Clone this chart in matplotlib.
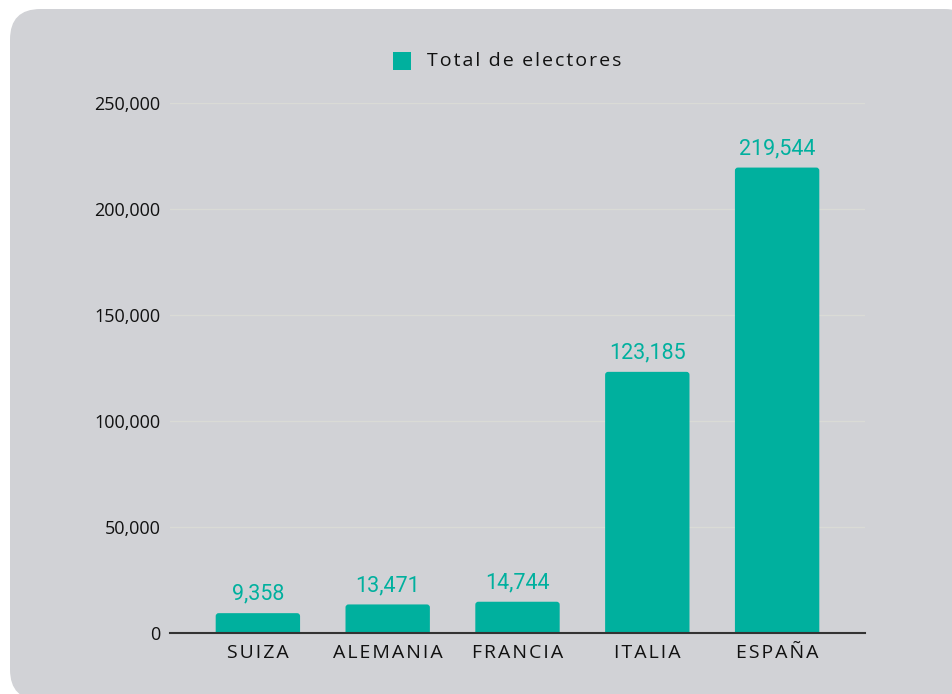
import matplotlib
matplotlib.use("Agg")
import matplotlib.pyplot as plt
from matplotlib.patches import FancyBboxPatch, Rectangle
from matplotlib.ticker import FuncFormatter

countries = ["SUIZA", "ALEMANIA", "FRANCIA", "ITALIA", "ESPAÑA"]
electores = [9358, 13471, 14744, 123185, 219544]
series_name = "Total de electores"
yticks = [0, 50000, 100000, 150000, 200000, 250000]


def spaced(s, sep="\u200a", wsep=" "):
    return wsep.join(sep.join(w) for w in s.split(" "))


W, H = 952, 694
fig = plt.figure(figsize=(W / 100, H / 100), dpi=100)
fig.patch.set_facecolor("white")

# rounded background panel
px0, py0, px1, py1 = 10, 9, 975, 700
panel = FancyBboxPatch((px0 / W, 1 - py1 / H), (px1 - px0) / W, (py1 - py0) / H,
                       boxstyle="round,pad=0,rounding_size=0.032",
                       transform=fig.transFigure, facecolor="#d1d2d6",
                       edgecolor="none", zorder=-10, mutation_aspect=W / H)
fig.patches.append(panel)

ax_l, ax_r, ax_t, ax_b = 170, 865, 103, 633
ax = fig.add_axes([ax_l / W, 1 - ax_b / H, (ax_r - ax_l) / W, (ax_b - ax_t) / H])
ax.set_facecolor("none")
ax.set_zorder(1)

xmin, xmax = -0.677, len(countries) - 1 + 0.677
ymin, ymax = 0, 250000
ax.set_xlim(xmin, xmax)
ax.set_ylim(ymin, ymax)

teal = "#00b09e"
x = range(len(countries))
bars = ax.bar(x, electores, width=0.65, color=teal, zorder=3)
# rounded top corners
xpp = (xmax - xmin) / (ax_r - ax_l)
ypp = (ymax - ymin) / (ax_b - ax_t)
for b in bars:
    b.set_visible(False)
    rb = FancyBboxPatch((b.get_x(), -6 * ypp), b.get_width(), b.get_height() + 6 * ypp,
                        boxstyle=f"round,pad=0,rounding_size={3 * xpp}",
                        mutation_aspect=ypp / xpp, facecolor=teal, edgecolor="none",
                        zorder=3)
    ax.add_patch(rb)
for b, v in zip(bars, electores):
    ax.annotate(f"{v:,}", (b.get_x() + b.get_width() / 2, v), xytext=(0, 6),
                textcoords="offset points", ha="center", va="bottom",
                color=teal, fontsize=15.5, family="Roboto")

ax.set_yticks(yticks)
ax.yaxis.set_major_formatter(FuncFormatter(lambda v, p: f"{int(v):,}"))
ax.set_xticks(list(x))
ax.set_xticklabels([spaced(c) for c in countries])
for lbl in ax.get_xticklabels():
    lbl.set_fontfamily("Open Sans")
    lbl.set_fontsize(14)
    lbl.set_color("#111111")
for lbl in ax.get_yticklabels():
    lbl.set_fontfamily("Open Sans")
    lbl.set_fontsize(13)
    lbl.set_color("#111111")
ax.tick_params(axis="both", length=0)
ax.tick_params(axis="y", pad=7)
ax.tick_params(axis="x", pad=8)
ax.grid(axis="y", color="#dadbd6", linewidth=1, zorder=0)
for s in ["top", "right", "left"]:
    ax.spines[s].set_visible(False)
ax.spines["bottom"].set_color("#333333")
ax.spines["bottom"].set_linewidth(1.5)
ax.spines["bottom"].set_zorder(4)

# legend
lx, ly = 393, 61
fig.patches.append(Rectangle(((lx) / W, 1 - (ly + 9) / H), 18 / W, 18 / H,
                             transform=fig.transFigure, facecolor=teal, edgecolor="none"))
fig.text((lx + 34) / W, 1 - ly / H, spaced(series_name, "\u200a", " \u2009"),
         va="center", ha="left", fontsize=14, family="Open Sans", color="#111111")

fig.savefig("out.png", dpi=100, facecolor="white")
